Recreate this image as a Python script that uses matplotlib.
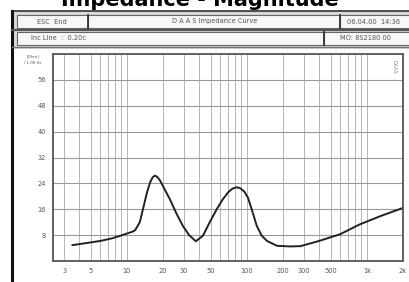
import numpy as np
import matplotlib
matplotlib.use("Agg")
import matplotlib.pyplot as plt
from matplotlib.patches import Rectangle
from matplotlib.ticker import FixedLocator, NullFormatter

# impedance curve (Hz, Ohm)
freq = [3.5, 4.5, 6, 7.5, 9, 10, 11, 11.7, 12.8, 13.7,
        14.7, 15.6, 16.4, 17.1, 17.9, 18.8, 20, 22.8, 26, 29.3,
        33, 37.5, 43, 49, 56, 63, 70, 76, 82, 88,
        95, 102, 110, 121, 133, 147, 178, 230, 280, 400,
        600, 870, 1280, 1960]
ohms = [4.9, 5.5, 6.2, 7.0, 7.9, 8.5, 9.0, 9.5, 12.0, 16.5,
        21.2, 24.3, 25.9, 26.4, 26.0, 25.0, 23.1, 19.1, 14.5, 10.8,
        8.0, 6.1, 7.8, 12.0, 16.0, 19.1, 21.3, 22.4, 22.8, 22.5,
        21.5, 19.6, 15.8, 10.8, 7.8, 6.2, 4.7, 4.5, 4.6, 6.2,
        8.3, 11.3, 13.8, 16.3]

xticks = [3, 5, 10, 20, 30, 50, 100, 200, 300, 500, 1000, 2000]
xlabels = ["3", "5", "10", "20", "30", "50", "100", "200", "300", "500", "1k", "2k"]
yticks = [8, 16, 24, 32, 40, 48, 56]

W, H = 409, 282
fig = plt.figure(figsize=(W / 100, H / 100), dpi=100)
fig.patch.set_facecolor("white")

# background layer in pixel coordinates for the instrument frame
bg = fig.add_axes([0, 0, 1, 1])
bg.set_xlim(0, W)
bg.set_ylim(H, 0)
bg.axis("off")

bg.add_patch(Rectangle((12, 11), W - 12, 38, facecolor="#d9d9d9", edgecolor="none"))
bg.plot([12, W], [11, 11], color="#333333", lw=1.2)
bg.plot([12, 12], [11, H], color="#111111", lw=2.2)
bg.plot([12, W], [29.5, 29.5], color="#555555", lw=1.6)
bg.plot([12, W], [47, 47], color="#777777", lw=1.0)

boxes = [(17, 15, 71, 13), (88, 15, 252, 13), (340, 15, 80, 13),
         (17, 31.5, 307, 13), (324, 31.5, 90, 13)]
for x, y, w, h in boxes:
    bg.add_patch(Rectangle((x, y), w, h, facecolor="#f7f7f7", edgecolor="#666666", lw=0.8))
bg.plot([88, 88], [15, 28], color="#333333", lw=1.3)
bg.plot([340, 340], [15, 28], color="#333333", lw=1.3)
bg.plot([324, 324], [31.5, 44.5], color="#333333", lw=1.3)

tkw = dict(fontsize=4.8, color="#555555", va="center")
bg.text(52, 21.5, "ESC  End", ha="center", **tkw)
bg.text(215, 21.5, "D A A S Impedance Curve", ha="center", **tkw)
bg.text(347, 21.5, "06.04.00  14:36", ha="left", **tkw)
bg.text(31, 38, "Inc Line  :  0.20c", ha="left", **tkw)
bg.text(340, 38, "MO: 8S2180 00", ha="left", **tkw)

bg.text(33, 56.5, "[Ohm]", ha="center", fontsize=2.8, color="#555555", va="center")
bg.text(33, 63.5, "/ 1.00 Hz", ha="center", fontsize=2.8, color="#555555", va="center")

# title, cut off at the top edge as in the screenshot
fig.text(200 / W, 1 - 6 / H, "Impedance - Magnitude", ha="center", va="baseline",
         fontsize=15, fontweight="bold", color="black")

# plot area
l, r, t, b = 53, 403, 54, 261
ax = fig.add_axes([l / W, (H - b) / H, (r - l) / W, (b - t) / H])
ax.set_facecolor("white")
ax.set_xscale("log")
ax.set_xlim(2.42, 2000)
ax.set_ylim(0, 64)

minor = [m * 10 ** e for e in range(0, 4) for m in range(1, 10)]
ax.xaxis.set_minor_locator(FixedLocator([v for v in minor if 2.42 < v < 2000]))
ax.xaxis.set_minor_formatter(NullFormatter())
ax.set_xticks(xticks)
ax.set_xticklabels(xlabels)
ax.set_yticks(yticks)
ax.grid(which="minor", axis="x", color="#aaaaaa", lw=0.6)
ax.grid(which="major", axis="x", color="#aaaaaa", lw=0.6)
ax.grid(which="major", axis="y", color="#999999", lw=0.8)
ax.tick_params(which="both", length=0, labelsize=4.8, labelcolor="#555555", pad=5)

for s in ax.spines.values():
    s.set_color("#555555")
    s.set_linewidth(1.3)

ax.plot(freq, ohms, color="#222222", lw=1.4, solid_capstyle="round", solid_joinstyle="round")

ax.text(0.975, 0.97, "DAAS", transform=ax.transAxes, rotation=270,
        ha="center", va="top", fontsize=3.5, color="#888888")

fig.savefig("out.png", dpi=100)
